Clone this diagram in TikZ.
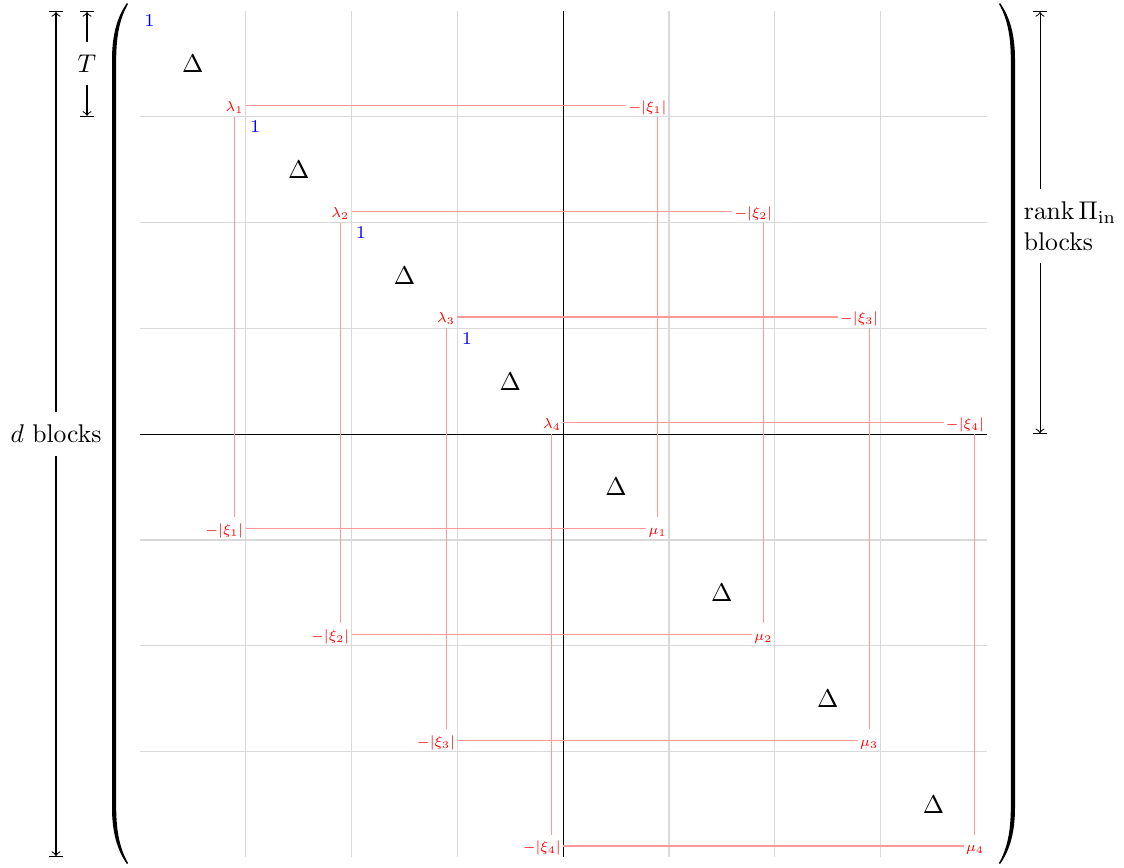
\documentclass[tikz,border=0pt]{standalone}
\usepackage{amsmath}
\begin{document}
\begin{tikzpicture}[x=0.390625pt,y=-0.390625pt,
  gridline/.style={gray!30,line width=0.5pt},
  axisline/.style={black,line width=0.4pt},
  conn/.style={red!40,line width=0.4pt},
  entry/.style={red,font=\scriptsize,scale=0.8,anchor=south east,inner xsep=1pt,inner ysep=0.75pt,text height=7.5pt,text depth=1.75pt},
  one/.style={blue,font=\scriptsize,anchor=north west,inner sep=1.5pt},
  dlt/.style={font=\normalsize,inner sep=0pt},
  dimarrow/.style={|<->|,line width=0.4pt},
  dimlabel/.style={fill=white,inner xsep=2pt,inner ysep=5pt},
  paren/.style={fill=black}]
\useasboundingbox (0,0) rectangle (1124,867);
\def\B{105.8}
% grid
\foreach \k in {1,2,3,5,6,7} {
  \draw[gridline] ({140+\k*\B},11) -- ({140+\k*\B},857);
  \draw[gridline] (140,{11+\k*\B}) -- (987,{11+\k*\B});
}
\draw[axisline] ({140+4*\B},11) -- ({140+4*\B},857);
\draw[axisline] (140,{11+4*\B}) -- (987,{11+4*\B});
% diagonal blocks
\foreach \k in {0,...,7} {
  \node[dlt] (delta\k) at ({140+\k*\B+\B/2},{11+\k*\B+\B/2}) {$\Delta$};
}
\foreach \k in {0,...,3} {
  \node[one] (one\k) at ({140+\k*\B},{11+\k*\B}) {$1$};
}
% red entries
\foreach \i in {1,...,4} {
  \pgfmathtruncatemacro\j{\i+4}
  \node[entry] (lam\i) at ({140+\i*\B},{11+\i*\B}) {$\lambda_{\i}$};
  \node[entry] (xiu\i) at ({140+\j*\B},{11+\i*\B}) {$-|\xi_{\i}|$};
  \node[entry] (xil\i) at ({140+\i*\B},{11+\j*\B}) {$-|\xi_{\i}|$};
  \node[entry] (mu\i) at ({140+\j*\B},{11+\j*\B}) {$\mu_{\i}$};
  \draw[conn] (lam\i.east) -- (xiu\i.west);
  \draw[conn] (lam\i.south) -- (lam\i.south |- xil\i.north);
  \draw[conn] (mu\i.north) -- (mu\i.north |- xiu\i.south);
  \draw[conn] (xil\i.east) -- (mu\i.west);
}
% parentheses
\fill[paren] (127,3) .. controls (117,17) and (112,35) .. (112,60) -- (112,807)
  .. controls (112,832) and (117,850) .. (127,864) -- (128,863)
  .. controls (120,849) and (116.2,832) .. (116.2,807) -- (116.2,60)
  .. controls (116.2,35) and (120,18) .. (128,4) -- cycle;
\fill[paren] (1000,3) .. controls (1010,17) and (1015,35) .. (1015,60) -- (1015,807)
  .. controls (1015,832) and (1010,850) .. (1000,864) -- (999,863)
  .. controls (1007,849) and (1010.8,832) .. (1010.8,807) -- (1010.8,60)
  .. controls (1010.8,35) and (1007,18) .. (999,4) -- cycle;
% dimension arrows
\coordinate (dtop) at (56,11);
\coordinate (dbot) at (56,857);
\draw[dimarrow] (dtop) -- node[dimlabel] (dlabel) {$d$ blocks} (dbot);
\coordinate (ttop) at (87,11);
\coordinate (tbot) at ({87},{11+\B});
\draw[dimarrow] (ttop) -- node[dimlabel] (tlabel) {$T$} (tbot);
\coordinate (rtop) at (1040,11);
\coordinate (rbot) at (1040,{11+4*\B});
\draw[dimarrow] (rtop) -- (rbot);
\node[dimlabel,align=left] (rlabel) at (1070,226) {$\operatorname{rank}\Pi_{\mathrm{in}}$\\blocks};
\end{tikzpicture}
\end{document}
